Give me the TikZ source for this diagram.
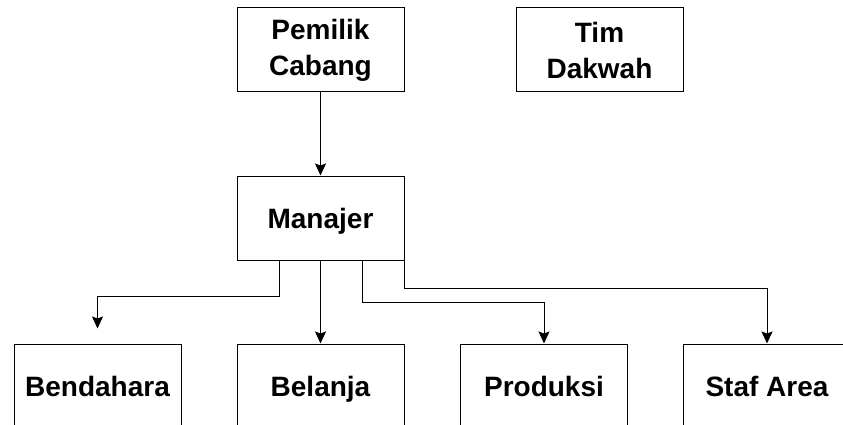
\documentclass[tikz,border=0pt]{standalone}
\usepackage{fontspec}
\setmainfont{Liberation Sans}
\usepackage{tikz}
\usetikzlibrary{positioning, arrows.meta}

\tikzset{
  box/.style={draw, line width=1pt, minimum width=167pt, minimum height=84pt,
    align=center, inner sep=0pt, font=\fontsize{28}{36}\selectfont\bfseries},
  onebox/.style={box, text height=20pt, text depth=0pt},
  arr/.style={line width=1pt, -{Stealth[length=12pt, width=11pt, inset=2pt]}}
}

\begin{document}
\begin{tikzpicture}[x=1pt, y=-1pt]
    \clip (0,0) rectangle (843,425);
    \fill[white] (0,0) rectangle (843,425);
    % top row
    \node[box] (pemilik) at (320.5,50) {Pemilik\\Cabang};
    \node[box] (dakwah) at (599.5,50) {Tim\\Dakwah};
    \node[onebox] (manajer) at (320.5,218) {Manajer};
    % bottom row
    \node[onebox] (bendahara) at (97.5,386) {Bendahara};
    \node[onebox] (belanja) at (320.5,386) {Belanja};
    \node[onebox] (produksi) at (544,386) {Produksi};
    \node[onebox] (staf) at (767,386) {Staf Area};
    % connectors
    \draw[arr] (pemilik) -- (manajer);
    \draw[arr, shorten >=15pt] ([xshift=-41.5pt]manajer.south) -- ++(0,36) -| (bendahara.north);
    \draw[arr] (manajer.south) -- (belanja.north);
    \draw[arr] ([xshift=41.5pt]manajer.south) -- ++(0,42) -| (produksi.north);
    \draw[arr] (manajer.south east) -- ++(0,28) -| (staf.north);
  \end{tikzpicture}
\end{document}
